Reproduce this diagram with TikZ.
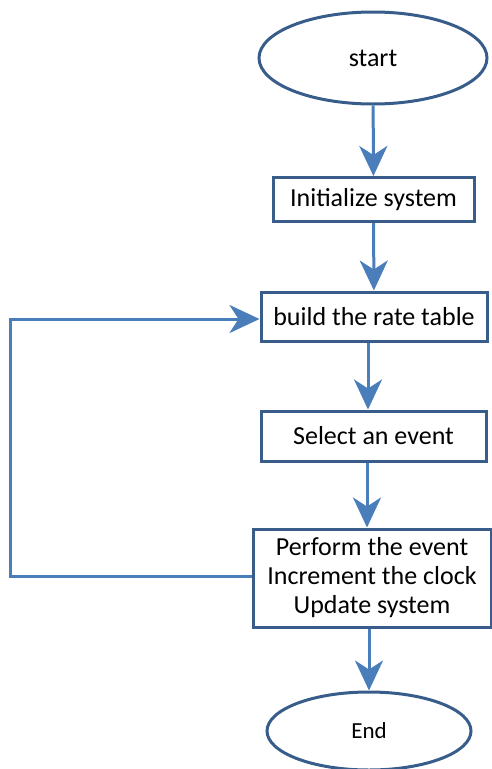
\documentclass[tikz,border=0pt]{standalone}
\usepackage{fontspec}
\setmainfont{Carlito}
\usetikzlibrary{shapes.geometric,arrows.meta}

\definecolor{boxblue}{RGB}{56,93,138}
\definecolor{flowblue}{RGB}{74,126,187}

\tikzset{every picture/.style={line width=3pt}}
\tikzset{
  terminal/.style={ellipse,draw=boxblue,line width=3pt,inner sep=0pt,font=\fontsize{26}{30}\selectfont},
  stepbox/.style={rectangle,draw=boxblue,line width=3pt,inner sep=0pt,font=\fontsize{26}{30}\selectfont},
  flow/.style={draw=flowblue,line width=3pt,-{Stealth[length=30pt,width=28pt,inset=9pt]}}
}

\begin{document}
\begin{tikzpicture}[x=1pt,y=1pt,yscale=-1,xscale=1]
\useasboundingbox (0,0) rectangle (491,769);

% Nodes
\node [terminal,minimum width=228,minimum height=92] (start) at (373,58) {start};
\node [stepbox,minimum width=201,minimum height=44] (init) at (373.5,199.5) {Initialize system};
\node [stepbox,minimum width=226,minimum height=49] (rate) at (374,316.5) {build the rate table};
\node [stepbox,minimum width=225,minimum height=50] (select) at (373.5,436) {Select an event};
\node [stepbox,minimum width=238,minimum height=98,align=center,font=\fontsize{26}{29}\selectfont] (perform) at (372,578) {Perform the event\\Increment the clock\\Update system};
\node [terminal,minimum width=204,minimum height=78,font=\fontsize{23}{26}\selectfont] (end) at (369,731) {End};

% Loop corners
\coordinate (loopbot) at (10,576);
\coordinate (looptop) at (10,319);

% Connectors
\draw [flow] (start) -- (init);
\draw [flow] (init) -- (rate);
\draw [flow] (rate.south -| 368,0) -- (select.north -| 368,0);
\draw [flow] (select.south -| 367,0) -- (perform.north -| 367,0);
\draw [flow] (perform.south -| 369,0) -- (end.north);
\draw [flow] (perform.west |- loopbot) -- (loopbot) -- (looptop) -- (rate.west |- looptop);

\end{tikzpicture}
\end{document}
